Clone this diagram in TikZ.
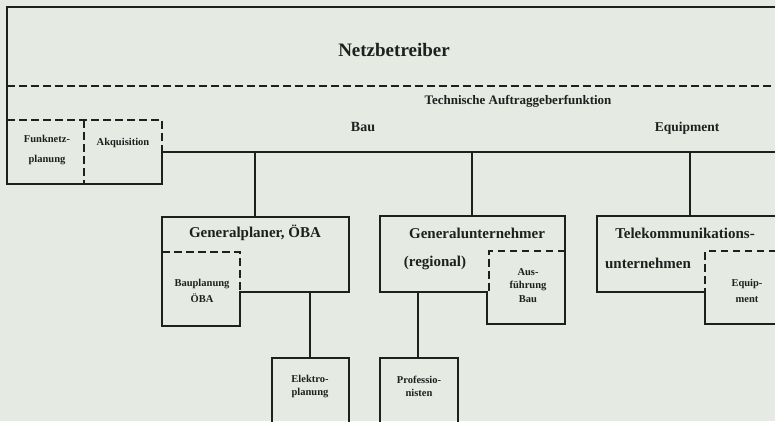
\documentclass[tikz,border=0pt]{standalone}
\usepackage{fontspec}
\setmainfont{Liberation Serif}
\definecolor{bgcol}{HTML}{E5EAE3}
\definecolor{ink}{HTML}{1E201E}
\begin{document}
\begin{tikzpicture}[x=1pt,y=-1pt,
  solidline/.style={draw=ink,line width=1.7pt,line join=miter},
  dashline/.style={draw=ink,line width=1.7pt,dash pattern=on 7.5pt off 4.5pt},
  conn/.style={draw=ink,line width=1.7pt},
  big/.style={font=\bfseries\fontsize{19}{22}\selectfont,text=ink,inner sep=0pt},
  mid/.style={font=\bfseries\fontsize{13}{16}\selectfont,text=ink,inner sep=0pt},
  title/.style={font=\bfseries\fontsize{15}{18}\selectfont,text=ink,inner sep=0pt},
  small/.style={font=\bfseries\fontsize{10.5}{13}\selectfont,text=ink,align=center,inner sep=0pt}]
\fill[bgcol] (0,0) rectangle (775,421);
\useasboundingbox (0,0) rectangle (775,421);

% Netzbetreiber outline
\draw[solidline] (776,7) -- (7,7) -- (7,184) -- (162,184) -- (162,152) -- (776,152);
\draw[dashline] (7,86) -- (776,86);
\draw[dashline] (7,120) -- (162,120) -- (162,152);
\draw[dashline] (84,120) -- (84,184);

\node[big] (nb) at (394,50) {Netzbetreiber};
\node[mid] (taf) at (518,101) {Technische Auftraggeberfunktion};
\node[mid,font=\bfseries\fontsize{14}{16}\selectfont] (bau) at (363,127) {Bau};
\node[mid,font=\bfseries\fontsize{13.5}{16}\selectfont] (equ) at (687,128) {Equipment};
\node[small,font=\bfseries\fontsize{10.5}{20}\selectfont] (fnp) at (47,150) {Funknetz-\\planung};
\node[small] (akq) at (123,143) {Akquisition};

% connection points on Netzbetreiber bottom
\coordinate (nb1) at (255,152);
\coordinate (nb2) at (472,152);
\coordinate (nb3) at (690,152);

% Generalplaner
\draw[solidline] (162,217) -- (349,217) -- (349,292) -- (240,292) -- (240,326) -- (162,326) -- cycle;
\draw[dashline] (162,252) -- (240,252) -- (240,292);
\coordinate (gpn) at (255,217);
\coordinate (gps) at (310,292);
\node[title] (gp) at (255,233) {Generalplaner, ÖBA};
\node[small,font=\bfseries\fontsize{10.5}{16.5}\selectfont] (bpl) at (202,291) {Bauplanung\\ÖBA};

% Generalunternehmer
\draw[solidline] (380,216) -- (565,216) -- (565,324) -- (487,324) -- (487,292) -- (380,292) -- cycle;
\draw[dashline] (565,251) -- (489,251) -- (489,292);
\coordinate (gun) at (472,216);
\coordinate (gus) at (418,292);
\node[title] (gu) at (477,233) {Generalunternehmer};
\node[title] (gur) at (435,263) {(regional)};
\node[small,font=\bfseries\fontsize{10.5}{13.5}\selectfont] (afb) at (528,285.5) {Aus-\\führung\\Bau};

% Telekommunikationsunternehmen
\draw[solidline] (776,216) -- (597,216) -- (597,292) -- (705,292) -- (705,324) -- (776,324);
\draw[dashline] (776,251) -- (705,251) -- (705,292);
\coordinate (tkn) at (690,216);
\node[title] (tk) at (685,233) {Telekommunikations-};
\node[title] (tku) at (648,263) {unternehmen};
\node[small,font=\bfseries\fontsize{10.5}{16}\selectfont] (eqm) at (747,291) {Equip-\\ment};

% Elektroplanung
\draw[solidline] (272,422) -- (272,358) -- (349,358) -- (349,422);
\coordinate (eln) at (310,358);
\node[small] (elp) at (310,386.5) {Elektro-\\planung};

% Professionisten
\draw[solidline] (380,422) -- (380,358) -- (458,358) -- (458,422);
\coordinate (prn) at (418,358);
\node[small] (pro) at (419,386.5) {Professio-\\nisten};

% connectors
\draw[conn] (nb1) -- (gpn);
\draw[conn] (nb2) -- (gun);
\draw[conn] (nb3) -- (tkn);
\draw[conn] (gps) -- (eln);
\draw[conn] (gus) -- (prn);
\end{tikzpicture}
\end{document}
